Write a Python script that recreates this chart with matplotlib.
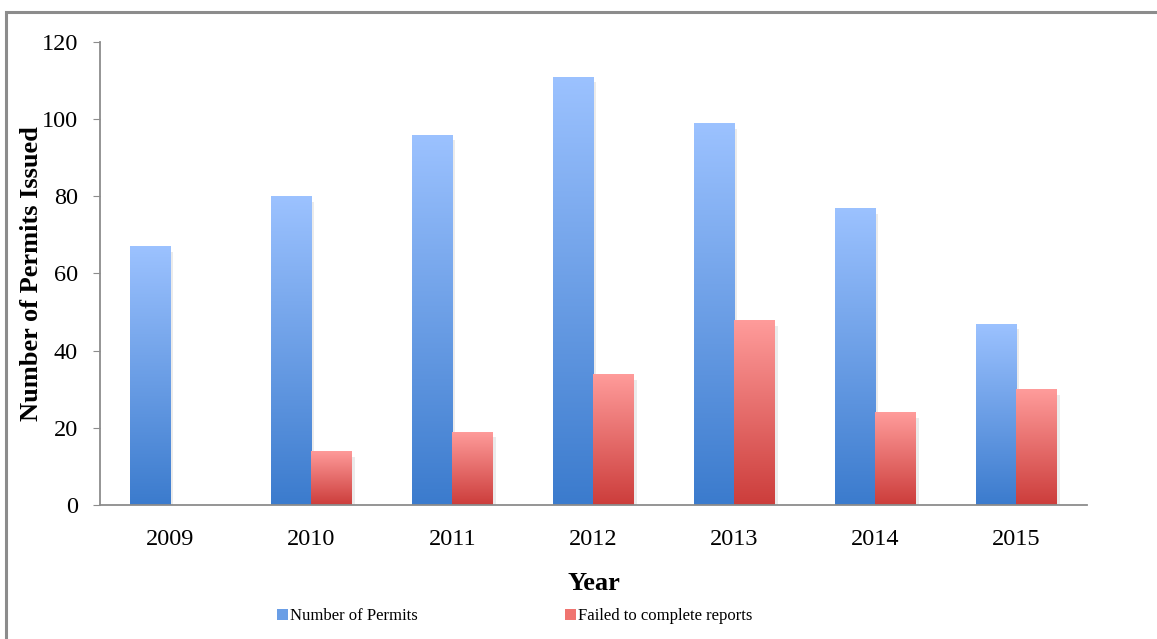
import numpy as np
import matplotlib.pyplot as plt
from matplotlib.patches import Rectangle, Patch
from matplotlib.colors import LinearSegmentedColormap

years = ['2009', '2010', '2011', '2012', '2013', '2014', '2015']
permits = [67, 80, 96, 111, 99, 77, 47]
failed = [0, 14, 19, 34, 48, 24, 30]

plt.rcParams['font.family'] = ['Liberation Serif', 'DejaVu Serif']

blue_cm = LinearSegmentedColormap.from_list('b', ['#3b7bcd', '#9cc2ff'])
red_cm = LinearSegmentedColormap.from_list('r', ['#cc3d3b', '#ff9c9b'])

fig = plt.figure(figsize=(11.57, 6.39), dpi=100)
ax = fig.add_axes([0.0864, 0.2097, 0.8531, 0.7246])

# outer frame (right/bottom edges run off the image)
fig.patches.append(Rectangle((6 / 1157, -0.05), 1.2, 1 - 12 / 639 + 0.05,
                             transform=fig.transFigure, fill=False,
                             edgecolor='#8c8c8c', linewidth=2.2))

x = np.arange(len(years))
w = 0.29
grad = np.linspace(0, 1, 256).reshape(-1, 1)


def gradient_bars(bars, cmap):
    for b in bars:
        if b.get_height() <= 0:
            continue
        x0, y0 = b.get_x(), b.get_y()
        x1, y1 = x0 + b.get_width(), y0 + b.get_height()
        # soft shadow
        ax.add_patch(Rectangle((x1, y0), 0.02, b.get_height() - 1.5,
                               facecolor='#ebebeb', edgecolor='none', zorder=1))
        im = ax.imshow(grad, cmap=cmap, origin='lower', aspect='auto',
                       extent=(x0, x1, y0, y1), zorder=2)
        im.set_clip_path(b)


b1 = ax.bar(x - w / 2, permits, w, color='none', edgecolor='none', zorder=2)
b2 = ax.bar(x + w / 2, failed, w, color='none', edgecolor='none', zorder=2)
gradient_bars(b1, blue_cm)
gradient_bars(b2, red_cm)

ax.set_xlim(-0.5, 6.5)
ax.set_ylim(0, 120)
ax.set_yticks(range(0, 121, 20))
ax.set_xticks(x)
ax.set_xticklabels(years)
ax.tick_params(axis='x', length=0, labelsize=17.5, pad=17)
ax.tick_params(axis='y', length=5, labelsize=17.5, color='#8c8c8c', pad=11)

for s in ['top', 'right']:
    ax.spines[s].set_visible(False)
for s in ['left', 'bottom']:
    ax.spines[s].set_color('#8c8c8c')
    ax.spines[s].set_linewidth(1.3)

ax.set_xlabel('Year', fontsize=19, fontweight='bold', labelpad=16)
ax.set_ylabel('Number of Permits Issued', fontsize=19, fontweight='bold')
ax.yaxis.set_label_coords(-0.058, 0.5)

handles = [Patch(facecolor='#6a9ee6', edgecolor='none'),
           Patch(facecolor='#f07470', edgecolor='none')]
fig.legend(handles, ['Number of Permits', 'Failed to complete reports'],
           loc='center left', bbox_to_anchor=(277 / 1157, 0.036), ncol=2,
           frameon=False, borderpad=0, borderaxespad=0,
           fontsize=12, handlelength=0.65, handleheight=0.65, handletextpad=0.15,
           columnspacing=8.8)

fig.savefig('out.png', dpi=100)
